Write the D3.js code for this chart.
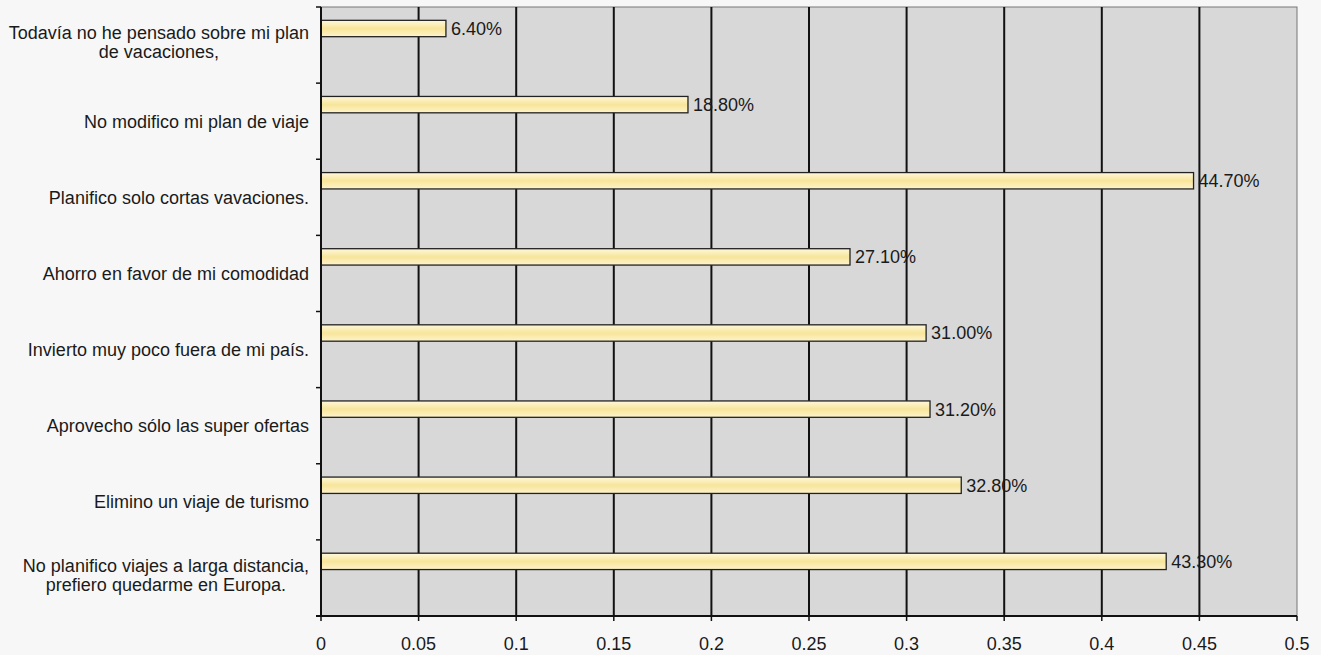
<!DOCTYPE html>
<html>
<head>
<meta charset="utf-8">
<script src="https://cdn.jsdelivr.net/npm/d3@7"></script>
<style>
  html, body { margin: 0; padding: 0; background: #f7f7f7; }
  svg { display: block; }
  text { font-family: "Liberation Sans", Arial, sans-serif; }
</style>
</head>
<body>
<svg id="chart" width="1321" height="655"></svg>
<script>
const categories = [
  "Todavía no he pensado sobre mi plan\nde vacaciones,",
  "No modifico mi plan de viaje",
  "Planifico solo cortas vavaciones.",
  "Ahorro en favor de mi comodidad",
  "Invierto muy poco fuera de mi país.",
  "Aprovecho sólo las super ofertas",
  "Elimino un viaje de turismo",
  "No planifico viajes a larga distancia,\nprefiero quedarme en Europa."
];
const values = [0.064, 0.188, 0.447, 0.271, 0.310, 0.312, 0.328, 0.433];
const valueLabels = ["6.40%", "18.80%", "44.70%", "27.10%", "31.00%", "31.20%", "32.80%", "43.30%"];
const xTicks = [0, 0.05, 0.1, 0.15, 0.2, 0.25, 0.3, 0.35, 0.4, 0.45, 0.5];
const xTickLabels = ["0", "0.05", "0.1", "0.15", "0.2", "0.25", "0.3", "0.35", "0.4", "0.45", "0.5"];

const W = 1321, H = 655;
const margin = { top: 7, right: 24, bottom: 39, left: 321 };
const svg = d3.select("#chart");

const x = d3.scaleLinear().domain([0, 0.5]).range([margin.left, W - margin.right]);
const y = d3.scaleBand().domain(categories).range([margin.top, H - margin.bottom]).paddingInner(0).paddingOuter(0);
const bw = y.bandwidth();

const defs = svg.append("defs");
const grad = defs.append("linearGradient").attr("id", "barGrad").attr("x1", 0).attr("y1", 0).attr("x2", 0).attr("y2", 1);
grad.append("stop").attr("offset", "0%").attr("stop-color", "#fff8dc");
grad.append("stop").attr("offset", "50%").attr("stop-color", "#f7e59a");
grad.append("stop").attr("offset", "100%").attr("stop-color", "#fff3cc");

// plot background
svg.append("rect")
  .attr("x", x(0)).attr("y", margin.top)
  .attr("width", x(0.5) - x(0)).attr("height", H - margin.bottom - margin.top)
  .attr("fill", "#d8d8d8")
  .attr("stroke", "#777").attr("stroke-width", 1);

// vertical gridlines
svg.append("g").selectAll("line").data(xTicks.slice(1, -1)).join("line")
  .attr("x1", d => x(d)).attr("x2", d => x(d))
  .attr("y1", margin.top).attr("y2", H - margin.bottom)
  .attr("stroke", "#111").attr("stroke-width", 2);

// bars
svg.append("g").selectAll("rect").data(values).join("rect")
  .attr("x", x(0))
  .attr("y", (d, i) => y(categories[i]) + bw * 0.175)
  .attr("width", d => x(d) - x(0))
  .attr("height", bw * 0.215)
  .attr("fill", "url(#barGrad)")
  .attr("stroke", "#222").attr("stroke-width", 1.3);

// value labels
svg.append("g").selectAll("text").data(values).join("text")
  .attr("x", d => x(d) + 5)
  .attr("y", (d, i) => y(categories[i]) + bw * 0.175 + bw * 0.215 / 2)
  .attr("dy", "0.36em")
  .attr("font-size", "18px")
  .attr("fill", "#1a1a1a")
  .text((d, i) => valueLabels[i]);

// x axis
const xAxis = svg.append("g").attr("transform", `translate(0,${H - margin.bottom})`);
xAxis.append("line").attr("x1", x(0) - 5).attr("x2", x(0.5)).attr("y1", 0).attr("y2", 0)
  .attr("stroke", "#111").attr("stroke-width", 2);
xAxis.selectAll("line.tick").data(xTicks).join("line").attr("class", "tick")
  .attr("x1", d => x(d)).attr("x2", d => x(d)).attr("y1", 0).attr("y2", 5)
  .attr("stroke", "#111").attr("stroke-width", 1.5);
xAxis.selectAll("text").data(xTicks).join("text")
  .attr("x", d => x(d)).attr("y", 34)
  .attr("text-anchor", "middle")
  .attr("font-size", "18px").attr("fill", "#1a1a1a")
  .text((d, i) => xTickLabels[i]);

// y axis
const yAxis = svg.append("g");
yAxis.append("line").attr("x1", x(0)).attr("x2", x(0)).attr("y1", margin.top).attr("y2", H - margin.bottom)
  .attr("stroke", "#111").attr("stroke-width", 2);
const yTickPos = categories.map(c => y(c)).concat([H - margin.bottom]);
yAxis.selectAll("line.tick").data(yTickPos).join("line").attr("class", "tick")
  .attr("x1", x(0) - 5).attr("x2", x(0)).attr("y1", d => d).attr("y2", d => d)
  .attr("stroke", "#111").attr("stroke-width", 1.5);

// category labels
const rightEdge = 309, lineH = 19;
categories.forEach(c => {
  const lines = c.split("\n");
  const cy = y(c) + bw / 2 - (lines.length > 1 ? 3 : 0);
  const t = yAxis.append("text")
    .attr("font-size", "18px").attr("fill", "#1a1a1a").attr("text-anchor", "middle");
  lines.forEach((ln, j) => {
    t.append("tspan").attr("y", cy + (j - (lines.length - 1) / 2) * lineH).attr("dy", "0.36em").text(ln);
  });
  let maxW = 0;
  t.selectAll("tspan").each(function () { maxW = Math.max(maxW, this.getComputedTextLength()); });
  t.selectAll("tspan").attr("x", rightEdge - maxW / 2);
});
</script>
</body>
</html>
